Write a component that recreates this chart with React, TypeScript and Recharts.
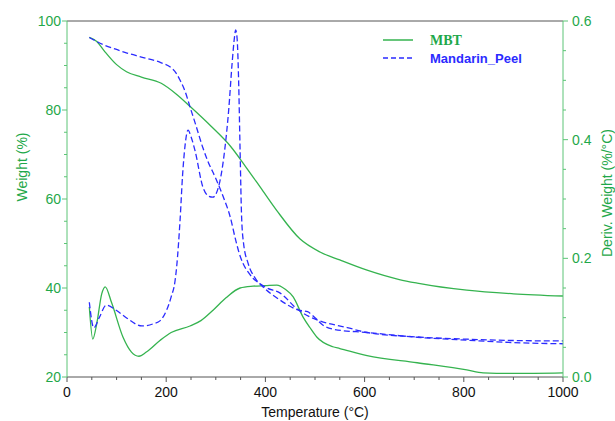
import { LineChart, Line, XAxis, YAxis, ReferenceLine } from "recharts";

const GREEN = "#35b34f";
const GREEN_TEXT = "#1fa84a";
const AXIS_GREEN = "#5cc476";
const BLUE = "#2b2bff";
const FONT = "'Liberation Sans', Arial, sans-serif";

// [temperature °C, value]
const mbtWeight: [number, number][] = [
  [45, 96.3], [60, 95.4], [75, 93.3], [100, 90.2], [120, 88.6], [150, 87.4], [190, 86], [220, 83.6],
  [250, 80.6], [290, 76.4], [330, 71.8], [360, 67.3], [390, 62.6], [423, 57.4], [470, 51], [510, 48.1],
  [550, 46.3], [605, 44], [670, 41.9], [706, 41.1], [806, 39.5], [900, 38.7], [1000, 38.2],
];

const mbtDeriv: [number, number][] = [
  [45, 0.118], [52, 0.064], [60, 0.09], [70, 0.14], [77, 0.152], [90, 0.125], [113, 0.067], [130, 0.042],
  [145, 0.035], [160, 0.042], [188, 0.062], [210, 0.075], [248, 0.086], [270, 0.095], [295, 0.113],
  [320, 0.133], [349, 0.15], [375, 0.153], [400, 0.154], [423, 0.155], [440, 0.148], [456, 0.135],
  [476, 0.101], [490, 0.083], [504, 0.067], [536, 0.051], [550, 0.048], [605, 0.036], [706, 0.024],
  [806, 0.012], [839, 0.007], [900, 0.006], [1000, 0.007],
];

const peelWeight: [number, number][] = [
  [45, 96.3], [73, 94.7], [100, 93.6], [121, 92.8], [150, 91.9], [188, 90.7], [210, 89.5], [220, 88.3],
  [228, 86.7], [238, 84.2], [248, 80.7], [260, 76.5], [274, 71.5], [284, 68.5], [300, 64.6], [315, 60.5],
  [329, 56], [340, 50.8], [349, 47.2], [355, 45.5], [365, 43.6], [375, 42.2], [390, 40.9], [403, 40],
  [429, 38.9], [466, 35.1], [490, 33.5], [510, 32.6], [565, 31.1], [605, 30], [706, 29], [806, 28.5],
  [900, 28.2], [1000, 28.1],
];

const peelDeriv: [number, number][] = [
  [45, 0.126], [54, 0.083], [65, 0.1], [79, 0.121], [100, 0.112], [121, 0.099], [151, 0.086], [175, 0.09],
  [188, 0.095], [201, 0.113], [210, 0.135], [218, 0.163], [221, 0.185], [228, 0.265], [233, 0.34],
  [238, 0.39], [244, 0.416], [250, 0.405], [258, 0.382], [274, 0.32], [285, 0.305], [294, 0.303],
  [308, 0.329], [318, 0.383], [326, 0.45], [333, 0.53], [338, 0.575], [340, 0.585], [343, 0.57],
  [346, 0.5], [349, 0.38], [352, 0.27], [356, 0.225], [365, 0.192], [379, 0.167], [395, 0.152],
  [429, 0.13], [466, 0.113], [485, 0.11], [500, 0.1], [515, 0.088], [540, 0.08], [605, 0.075],
  [706, 0.067], [806, 0.062], [900, 0.058], [1000, 0.056],
];

const xTicks = [0, 50, 100, 150, 200, 250, 300, 350, 400, 450, 500, 550, 600, 650, 700, 750, 800, 850, 900, 950, 1000];
const weightTicks = [20, 25, 30, 35, 40, 45, 50, 55, 60, 65, 70, 75, 80, 85, 90, 95, 100];
const derivTicks = [0, 0.05, 0.1, 0.15, 0.2, 0.25, 0.3, 0.35, 0.4, 0.45, 0.5, 0.55, 0.6];

const toRows = (pts: [number, number][]) => pts.map(([t, v]) => ({ t, v }));

function BottomTick({ x, y, payload }: any) {
  const major = payload.value % 200 === 0;
  return (
    <g>
      <line x1={x} x2={x} y1={y} y2={y + (major ? 5 : 3)} stroke="#555" />
      {major && (
        <text x={x} y={y + 20} textAnchor="middle" fill="#111" fontSize={14} fontFamily={FONT}>
          {payload.value}
        </text>
      )}
    </g>
  );
}

function LeftTick({ x, y, payload }: any) {
  const major = payload.value % 20 === 0;
  return (
    <g>
      <line x1={x - (major ? 5 : 3)} x2={x} y1={y} y2={y} stroke={AXIS_GREEN} />
      {major && (
        <text x={x - 6} y={y + 5} textAnchor="end" fill={GREEN_TEXT} fontSize={14} fontFamily={FONT}>
          {payload.value}
        </text>
      )}
    </g>
  );
}

function RightTick({ x, y, payload }: any) {
  const major = Math.round(payload.value * 100) % 20 === 0;
  return (
    <g>
      <line x1={x} x2={x + (major ? 5 : 3)} y1={y} y2={y} stroke={AXIS_GREEN} />
      {major && (
        <text x={x + 9} y={y + 5} textAnchor="start" fill={GREEN_TEXT} fontSize={14} fontFamily={FONT}>
          {payload.value.toFixed(1)}
        </text>
      )}
    </g>
  );
}

function LegendBox() {
  return (
    <svg width={150} height={40} style={{ position: "absolute", left: 380, top: 30 }}>
      <line x1={3} x2={33} y1={10} y2={10} stroke={GREEN} strokeWidth={1.5} />
      <text x={50} y={15} fill={GREEN_TEXT} fontSize={14} fontWeight="bold" fontFamily="'Liberation Serif', 'Times New Roman', serif">
        MBT
      </text>
      <line x1={3} x2={33} y1={28} y2={28} stroke={BLUE} strokeWidth={1.5} strokeDasharray="5 3" />
      <text x={50} y={33} fill={BLUE} fontSize={13} fontWeight="bold" fontFamily={FONT}>
        Mandarin_Peel
      </text>
    </svg>
  );
}

export default function App() {
  return (
    <div style={{ position: "absolute", left: 0, top: 0, width: 615, height: 421 }}>
      <LineChart width={615} height={421} margin={{ top: 21, right: 0, bottom: 0, left: 0 }}>
        <XAxis
          dataKey="t"
          type="number"
          domain={[0, 1000]}
          ticks={xTicks}
          interval={0}
          height={44}
          tickSize={0}
          tickMargin={0}
          tick={<BottomTick />}
          axisLine={{ stroke: "#555" }}
          label={{
            content: () => (
              <text x={315} y={417} textAnchor="middle" fill="#111" fontSize={14} fontFamily={FONT}>
                Temperature (°C)
              </text>
            ),
          }}
        />
        <YAxis
          yAxisId="left"
          orientation="left"
          domain={[20, 100]}
          ticks={weightTicks}
          interval={0}
          width={67}
          tickSize={0}
          tickMargin={0}
          tick={<LeftTick />}
          axisLine={{ stroke: AXIS_GREEN }}
          label={{
            content: () => (
              <text x={27} y={167} transform="rotate(-90 27 167)" textAnchor="middle" fill={GREEN_TEXT} fontSize={14} fontFamily={FONT}>
                Weight (%)
              </text>
            ),
          }}
        />
        <YAxis
          yAxisId="right"
          orientation="right"
          domain={[0, 0.6]}
          ticks={derivTicks}
          interval={0}
          width={52}
          tickSize={0}
          tickMargin={0}
          tick={<RightTick />}
          axisLine={{ stroke: AXIS_GREEN }}
          label={{
            content: () => (
              <text x={612} y={193} transform="rotate(-90 612 193)" textAnchor="middle" fill={GREEN_TEXT} fontSize={14} fontFamily={FONT}>
                Deriv. Weight (%/°C)
              </text>
            ),
          }}
        />
        <ReferenceLine yAxisId="left" y={100} stroke="#555" />
        <Line yAxisId="left" data={toRows(mbtWeight)} dataKey="v" name="MBT" type="monotone" stroke={GREEN} strokeWidth={1.3} dot={false} isAnimationActive={false} />
        <Line yAxisId="right" data={toRows(mbtDeriv)} dataKey="v" name="MBT deriv" type="monotone" stroke={GREEN} strokeWidth={1.3} dot={false} isAnimationActive={false} />
        <Line yAxisId="left" data={toRows(peelWeight)} dataKey="v" name="Mandarin_Peel" type="monotone" stroke={BLUE} strokeWidth={1.3} strokeDasharray="6 3" dot={false} isAnimationActive={false} />
        <Line yAxisId="right" data={toRows(peelDeriv)} dataKey="v" name="Mandarin_Peel deriv" type="monotone" stroke={BLUE} strokeWidth={1.3} strokeDasharray="6 3" dot={false} isAnimationActive={false} />
      </LineChart>
      <LegendBox />
    </div>
  );
}
